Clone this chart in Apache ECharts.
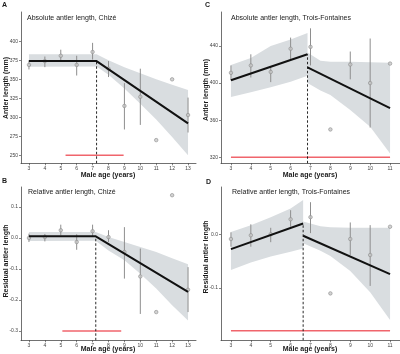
<!DOCTYPE html>
<html><head><meta charset="utf-8">
<script src="https://cdn.jsdelivr.net/npm/echarts@6/dist/echarts.min.js"></script>
<style>html,body{margin:0;padding:0;background:#fff}#c{width:400px;height:354px}</style>
</head><body><div id="c"></div>
<script>
// ---------- Data ----------
// Panel A: Absolute antler length, Chizé
const agesA = [3,4,5,6,7,8,9,10,11,12,13];
const meanA = [369,374,381,369,386,364,315,327,270,350,303];
const loA   = [363,366,373,355,376,353,284,290,null,null,280];
const hiA   = [375,380,389,381,398,374,345,364,null,null,326];
const fitAx = [3,7.25,13];
const fitAy = [374,374,292];
const bandAx = [3,7.25,8,9,10,11,12,13];
const bandAlo = [366.5,367,356,338,318,297,274,250];
const bandAhi = [383,383,375,366,358,350,343,336];
const breakA = 7.25;
const redAx = [5.3,8.95]; const redAy = 250;
const yTicksA = [250,275,300,325,350,375,400];

// Panel C: Absolute antler length, Trois-Fontaines
const agesC = [3,4,5,6,7,8,9,10,11];
const meanC = [411,419,412,437,439,350,420,400,421];
const loC   = [403,406,401,425,419,null,404,352,null];
const hiC   = [419,431,418,449,459,null,434,448,null];
const fitC1x = [3,6.85], fitC1y = [403,431];
const fitC2x = [6.85,11], fitC2y = [417,373];
const bandC1x = [3,4,5,6,6.85];
const bandC1lo = [385,390,395.5,401.5,408];
const bandC1hi = [419.5,427,440,447,454];
const bandC2x = [6.85,7.5,8,9,10,11];
const bandC2lo = [400,392,387,371,353,324];
const bandC2hi = [433,424,423,423,422.5,422];
const breakC = 6.85;
const redCx = [3,11]; const redCy = 320;
const yTicksC = [320,360,400,440];

// Panel B: Relative antler length, Chizé
const agesB = [3,4,5,6,7,8,9,10,11,12,13];
const meanB = [0.0,0.003,0.025,-0.013,0.022,0.003,-0.045,-0.124,-0.239,0.138,-0.167];
const loB   = [-0.013,-0.011,0.009,-0.038,0.003,-0.013,-0.131,-0.245,null,null,-0.239];
const hiB   = [0.014,0.013,0.043,0.012,0.043,0.025,0.035,-0.034,null,null,-0.094];
const fitBx = [3,7.2,13];
const fitBy = [0.0055,0.0055,-0.174];
const bandBx = [3,7.2,8,9,10,11,12,13];
const bandBlo = [-0.010,-0.009,-0.040,-0.072,-0.115,-0.163,-0.217,-0.266];
const bandBhi = [0.019,0.019,0.003,-0.013,-0.029,-0.045,-0.065,-0.085];
const breakB = 7.2;
const redBx = [5.1,8.8]; const redBy = -0.3;
const yTicksB = [-0.3,-0.2,-0.1,0.0,0.1];

// Panel D: Relative antler length, Trois-Fontaines
const agesD = [3,4,5,6,7,8,9,10,11];
const meanD = [-0.008,-0.001,0.001,0.029,0.033,-0.11,-0.008,-0.038,0.015];
const loD   = [-0.0225,-0.0225,-0.014,0.015,0.003,null,-0.038,-0.096,null];
const hiD   = [0.0045,0.0195,0.013,0.046,0.061,null,0.023,0.018,null];
const fitD1x = [3,6.63], fitD1y = [-0.027,0.021];
const fitD2x = [6.63,11], fitD2y = [-0.002,-0.074];
const bandD1x = [3,4,5,6,6.63];
const bandD1lo = [-0.066,-0.052,-0.041,-0.032,-0.026];
const bandD1hi = [0.005,0.018,0.033,0.049,0.065];
const bandD2x = [6.63,7.5,8,9,10,11];
const bandD2lo = [-0.016,-0.03,-0.04,-0.068,-0.108,-0.16];
const bandD2hi = [0.025,0.016,0.014,0.013,0.013,0.013];
const breakD = 6.63;
const redDx = [3,11]; const redDy = -0.18;
const yTicksD = [-0.1,0.0];

const xTicksLeft = [3,4,5,6,7,8,9,10,11,12,13];
const xTicksRight = [3,4,5,6,7,8,9,10,11];

// ---------- Styles ----------
const FONT = 'Liberation Sans, Arial, Helvetica, sans-serif';
const GREY = '#8e8e8e';
const BAND = '#d9dde0';
const RED = '#f0656c';

function zip(xs, ys){ return xs.map((x,i)=>[x, Array.isArray(ys)?ys[i]:ys]); }

function bandSeries(idx, xs, lo, hi){
  const data = xs.map((x,i)=>[x, lo[i], hi[i]]);
  return {
    type:'custom', xAxisIndex:idx, yAxisIndex:idx, z:1, silent:true,
    data: data, encode:{x:0, y:[1,2]},
    renderItem:function(params, api){
      if (params.dataIndex !== 0) return;
      const up = data.map(d=>api.coord([d[0], d[2]]));
      const dn = data.map(d=>api.coord([d[0], d[1]])).reverse();
      return {type:'polygon', shape:{points: up.concat(dn)}, style:{fill:BAND}};
    }
  };
}
function errSeries(idx, xs, lo, hi){
  const data = [];
  xs.forEach((x,i)=>{ if (lo[i]!==null) data.push([x, lo[i], hi[i]]); });
  return {
    type:'custom', xAxisIndex:idx, yAxisIndex:idx, z:2, silent:true,
    data: data, encode:{x:0, y:[1,2]},
    renderItem:function(params, api){
      const a = api.coord([api.value(0), api.value(1)]);
      const b = api.coord([api.value(0), api.value(2)]);
      return {type:'line', shape:{x1:a[0], y1:a[1], x2:b[0], y2:b[1]}, style:{stroke:GREY, lineWidth:1}};
    }
  };
}
function pointSeries(idx, xs, ys){
  return {type:'scatter', xAxisIndex:idx, yAxisIndex:idx, z:3, silent:true,
    symbol:'circle', symbolSize:3.5, data: zip(xs, ys),
    itemStyle:{color:'#c8c8c8', borderColor:GREY, borderWidth:0.8}};
}
function lineSeries(idx, xs, ys, color, width, type, z){
  return {type:'line', xAxisIndex:idx, yAxisIndex:idx, z:z, silent:true, symbol:'none',
    data: zip(xs, ys), lineStyle:{color:color, width:width, type:type||'solid'}, animation:false};
}

function xAxis(idx, min, max, ticks){
  return {type:'value', gridIndex:idx, min:min, max:max,
    axisLine:{onZero:false, lineStyle:{color:'#333', width:0.7}},
    axisTick:{length:2, lineStyle:{color:'#333', width:0.6}, customValues:ticks},
    axisLabel:{fontSize:5, color:'#444', margin:3, fontFamily:FONT, customValues:ticks},
    splitLine:{show:false}};
}
function yAxis(idx, min, max, ticks, fmt){
  return {type:'value', gridIndex:idx, min:min, max:max,
    axisLine:{show:true, onZero:false, lineStyle:{color:'#333', width:0.7}},
    axisTick:{show:true, length:2, lineStyle:{color:'#333', width:0.6}, customValues:ticks},
    axisLabel:{fontSize:5, color:'#444', margin:3, fontFamily:FONT, customValues:ticks, formatter:fmt},
    splitLine:{show:false}};
}
const fmtInt = v => String(Math.round(v));
const fmt1 = v => (Math.abs(v) < 1e-9 ? 0 : v).toFixed(1);

function txt(x, y, s, opts){
  return {type:'text', x:x, y:y, style:Object.assign({text:s, fill:'#1a1a1a', font:'7px ' + FONT, textVerticalAlign:'middle'}, opts||{})};
}
function vtxt(x, y, s){
  return {type:'text', x:x, y:y, rotation:Math.PI/2, style:{text:s, fill:'#1a1a1a', font:'bold 7px ' + FONT, textAlign:'center', textVerticalAlign:'middle'}};
}

const series = [];
// A (0)
series.push(bandSeries(0, bandAx, bandAlo, bandAhi));
series.push(errSeries(0, agesA, loA, hiA));
series.push(pointSeries(0, agesA, meanA));
series.push(lineSeries(0, redAx, redAy, RED, 1.5, 'solid', 3));
series.push(lineSeries(0, [breakA, breakA], [239.5, fitAy[1]], '#111', 0.9, [2.5,2], 5));
series.push(lineSeries(0, fitAx, fitAy, '#111', 2, 'solid', 4));
// C (1)
series.push(bandSeries(1, bandC1x, bandC1lo, bandC1hi));
series.push(bandSeries(1, bandC2x, bandC2lo, bandC2hi));
series.push(errSeries(1, agesC, loC, hiC));
series.push(pointSeries(1, agesC, meanC));
series.push(lineSeries(1, redCx, redCy, RED, 1.5, 'solid', 3));
series.push(lineSeries(1, [breakC, breakC], [313.5, fitC1y[1]], '#111', 0.9, [2.5,2], 5));
series.push(lineSeries(1, fitC1x, fitC1y, '#111', 2, 'solid', 4));
series.push(lineSeries(1, fitC2x, fitC2y, '#111', 2, 'solid', 4));
// B (2)
series.push(bandSeries(2, bandBx, bandBlo, bandBhi));
series.push(errSeries(2, agesB, loB, hiB));
series.push(pointSeries(2, agesB, meanB));
series.push(lineSeries(2, redBx, redBy, RED, 1.5, 'solid', 3));
series.push(lineSeries(2, [breakB, breakB], [-0.33, fitBy[1]], '#111', 0.9, [2.5,2], 5));
series.push(lineSeries(2, fitBx, fitBy, '#111', 2, 'solid', 4));
// D (3)
series.push(bandSeries(3, bandD1x, bandD1lo, bandD1hi));
series.push(bandSeries(3, bandD2x, bandD2lo, bandD2hi));
series.push(errSeries(3, agesD, loD, hiD));
series.push(pointSeries(3, agesD, meanD));
series.push(lineSeries(3, redDx, redDy, RED, 1.5, 'solid', 3));
series.push(lineSeries(3, [breakD, breakD], [-0.198, fitD1y[1]], '#111', 0.9, [2.5,2], 5));
series.push(lineSeries(3, fitD1x, fitD1y, '#111', 2, 'solid', 4));
series.push(lineSeries(3, fitD2x, fitD2y, '#111', 2, 'solid', 4));

const chart = echarts.init(document.getElementById('c'), null, {renderer:'canvas'});
chart.setOption({
  animation:false,
  backgroundColor:'#fff',
  grid:[
    {left:21, top:12, width:175, height:151.3, outerBoundsMode:'none'},
    {left:221, top:12, width:179, height:151.3, outerBoundsMode:'none'},
    {left:21, top:187, width:175, height:153.3, outerBoundsMode:'none'},
    {left:221, top:187, width:179, height:153.3, outerBoundsMode:'none'}
  ],
  xAxis:[
    xAxis(0, 2.5, 13.5, xTicksLeft),
    xAxis(1, 2.5, 11.5, xTicksRight),
    xAxis(2, 2.5, 13.5, xTicksLeft),
    xAxis(3, 2.5, 11.5, xTicksRight)
  ],
  yAxis:[
    yAxis(0, 239.5, 438.6, yTicksA, fmtInt),
    yAxis(1, 313.5, 476.6, yTicksC, fmtInt),
    yAxis(2, -0.330, 0.1645, yTicksB, fmt1),
    yAxis(3, -0.198, 0.0895, yTicksD, fmt1)
  ],
  graphic:[
    txt(2, 5, 'A', {font:'bold 7px ' + FONT}),
    txt(205, 5, 'C', {font:'bold 7px ' + FONT}),
    txt(2, 181, 'B', {font:'bold 7px ' + FONT}),
    txt(206, 182, 'D', {font:'bold 7px ' + FONT}),
    txt(27, 18.5, 'Absolute antler length, Chizé'),
    txt(231, 18.5, 'Absolute antler length, Trois-Fontaines'),
    txt(28, 192, 'Relative antler length, Chizé'),
    txt(232, 192.5, 'Relative antler length, Trois-Fontaines'),
    txt(108, 175, 'Male age (years)', {font:'bold 7px ' + FONT, textAlign:'center'}),
    txt(310, 175, 'Male age (years)', {font:'bold 7px ' + FONT, textAlign:'center'}),
    txt(108, 349, 'Male age (years)', {font:'bold 7px ' + FONT, textAlign:'center'}),
    txt(310, 349, 'Male age (years)', {font:'bold 7px ' + FONT, textAlign:'center'}),
    vtxt(6, 88, 'Antler length (mm)'),
    vtxt(206.5, 90, 'Antler length (mm)'),
    vtxt(6, 261, 'Residual antler length'),
    vtxt(206.5, 257, 'Residual antler length')
  ],
  series: series
});
</script>
</body></html>
